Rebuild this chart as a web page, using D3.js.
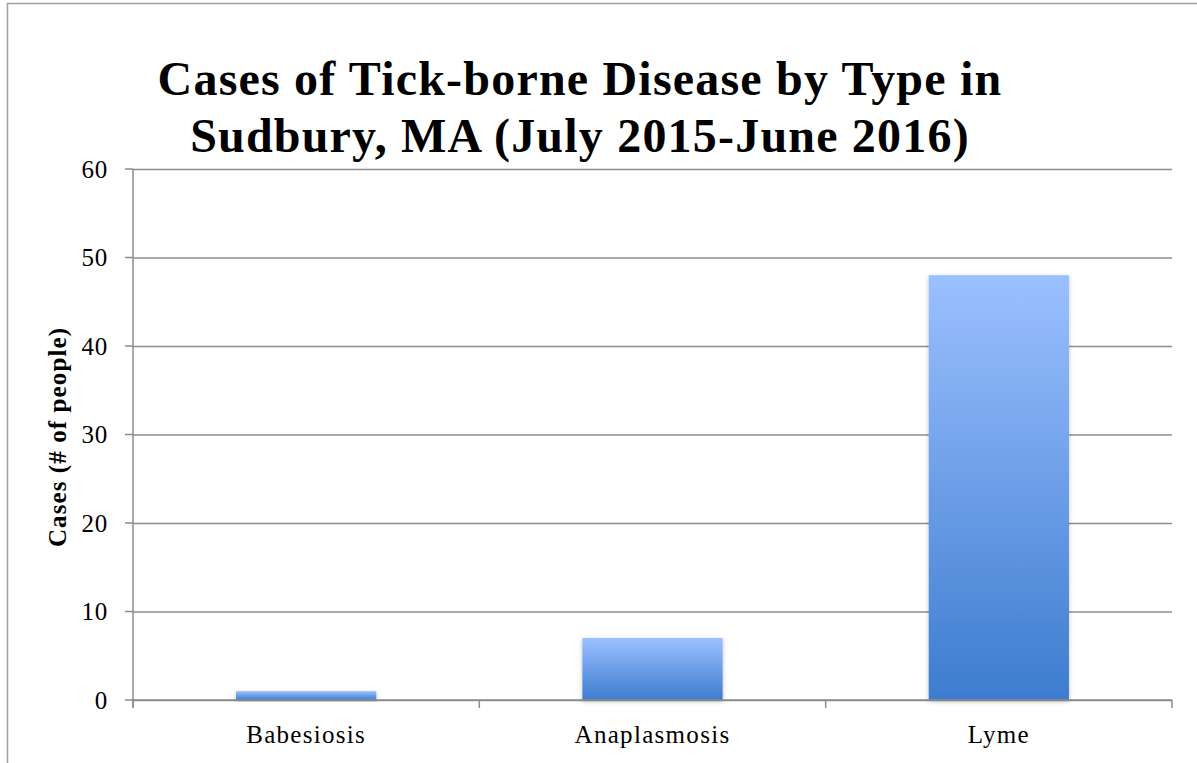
<!DOCTYPE html>
<html>
<head>
<meta charset="utf-8">
<script src="https://cdn.jsdelivr.net/npm/d3@7"></script>
<style>
  body { margin: 0; background: #fff; }
  text { font-family: "Liberation Serif", "DejaVu Serif", serif; }
</style>
</head>
<body>
<svg id="chart"></svg>
<script>
// data
const categories = ["Babesiosis", "Anaplasmosis", "Lyme"];
const cases = [1, 7, 48];
const yTicks = [0, 10, 20, 30, 40, 50, 60];
const titleLines = ["Cases of Tick-borne Disease by Type in", "Sudbury, MA (July 2015-June 2016)"];
const yLabel = "Cases (# of people)";

const W = 1197, H = 763;
const svg = d3.select("#chart").attr("width", W).attr("height", H);

// outer frame
svg.append("rect")
    .attr("x", 7.5).attr("y", 3.5)
    .attr("width", W + 20).attr("height", H + 20)
    .attr("fill", "none")
    .attr("stroke", "#a0a0a0")
    .attr("stroke-width", 1.5);

const plot = { left: 133, right: 1172, top: 169, bottom: 700 };

const x = d3.scaleBand()
    .domain(categories)
    .range([plot.left, plot.right])
    .paddingInner(0.595)
    .paddingOuter(0.2975);

const y = d3.scaleLinear().domain([0, 60]).range([plot.bottom, plot.top]);

const defs = svg.append("defs");
const grad = defs.append("linearGradient")
    .attr("id", "barGrad")
    .attr("x1", 0).attr("y1", 0).attr("x2", 0).attr("y2", 1);
grad.append("stop").attr("offset", "0%").attr("stop-color", "#9bc0ff");
grad.append("stop").attr("offset", "100%").attr("stop-color", "#3d7ccf");

const shadow = defs.append("filter").attr("id", "shadow")
    .attr("x", "-10%").attr("y", "-10%").attr("width", "120%").attr("height", "130%");
shadow.append("feDropShadow")
    .attr("dx", 0).attr("dy", 1.5).attr("stdDeviation", 2)
    .attr("flood-color", "#000").attr("flood-opacity", 0.25);

// gridlines + y axis
svg.append("g")
    .attr("transform", "translate(" + plot.left + ",0)")
    .call(d3.axisLeft(y)
        .tickValues(yTicks)
        .tickSize(-(plot.right - plot.left))
        .tickPadding(25))
    .call(g => g.select(".domain").remove())
    .call(g => g.selectAll(".tick line")
        .attr("stroke", "#8c8c8c").attr("stroke-width", 1.5))
    .call(g => g.selectAll(".tick text")
        .attr("font-size", 25)
        .attr("letter-spacing", 0.8)
        .attr("font-family", "Liberation Serif")
        .attr("fill", "#000"));

// left tick stubs
svg.append("g")
    .selectAll("line")
    .data(yTicks)
    .join("line")
    .attr("x1", plot.left - 8).attr("x2", plot.left)
    .attr("y1", d => y(d)).attr("y2", d => y(d))
    .attr("stroke", "#8c8c8c").attr("stroke-width", 1.5);

// y axis line
svg.append("line")
    .attr("x1", plot.left).attr("x2", plot.left)
    .attr("y1", plot.top).attr("y2", plot.bottom + 8)
    .attr("stroke", "#8c8c8c").attr("stroke-width", 1.5);

// bars
svg.append("g")
    .selectAll("rect")
    .data(categories)
    .join("rect")
    .attr("x", d => x(d))
    .attr("width", x.bandwidth())
    .attr("y", (d, i) => y(cases[i]))
    .attr("height", (d, i) => y(0) - y(cases[i]))
    .attr("fill", "url(#barGrad)")
    .attr("filter", "url(#shadow)");

// x axis
const xBoundaries = [plot.left].concat(categories.map(c => x(c) + x.bandwidth() + x.step() * x.paddingInner() / 2));
xBoundaries[xBoundaries.length - 1] = plot.right;
svg.append("line")
    .attr("x1", plot.left).attr("x2", plot.right)
    .attr("y1", plot.bottom).attr("y2", plot.bottom)
    .attr("stroke", "#8c8c8c").attr("stroke-width", 1.5);
svg.append("g")
    .selectAll("line")
    .data(xBoundaries)
    .join("line")
    .attr("x1", d => d).attr("x2", d => d)
    .attr("y1", plot.bottom).attr("y2", plot.bottom + 8)
    .attr("stroke", "#8c8c8c").attr("stroke-width", 1.5);

svg.append("g")
    .selectAll("text")
    .data(categories)
    .join("text")
    .attr("x", d => x(d) + x.bandwidth() / 2)
    .attr("y", 743)
    .attr("text-anchor", "middle")
    .attr("font-size", 25)
    .attr("letter-spacing", 1.3)
    .text(d => d);

// y axis title
svg.append("text")
    .attr("transform", "translate(66,437) rotate(-90)")
    .attr("text-anchor", "middle")
    .attr("font-size", 25)
    .attr("font-weight", "bold")
    .attr("letter-spacing", 1.1)
    .text(yLabel);

// chart title
svg.append("g")
    .selectAll("text")
    .data(titleLines)
    .join("text")
    .attr("x", 580)
    .attr("y", (d, i) => 95 + i * 57)
    .attr("text-anchor", "middle")
    .attr("font-size", 48)
    .attr("font-weight", "bold")
    .attr("letter-spacing", 1.2)
    .text(d => d);
</script>
</body>
</html>
